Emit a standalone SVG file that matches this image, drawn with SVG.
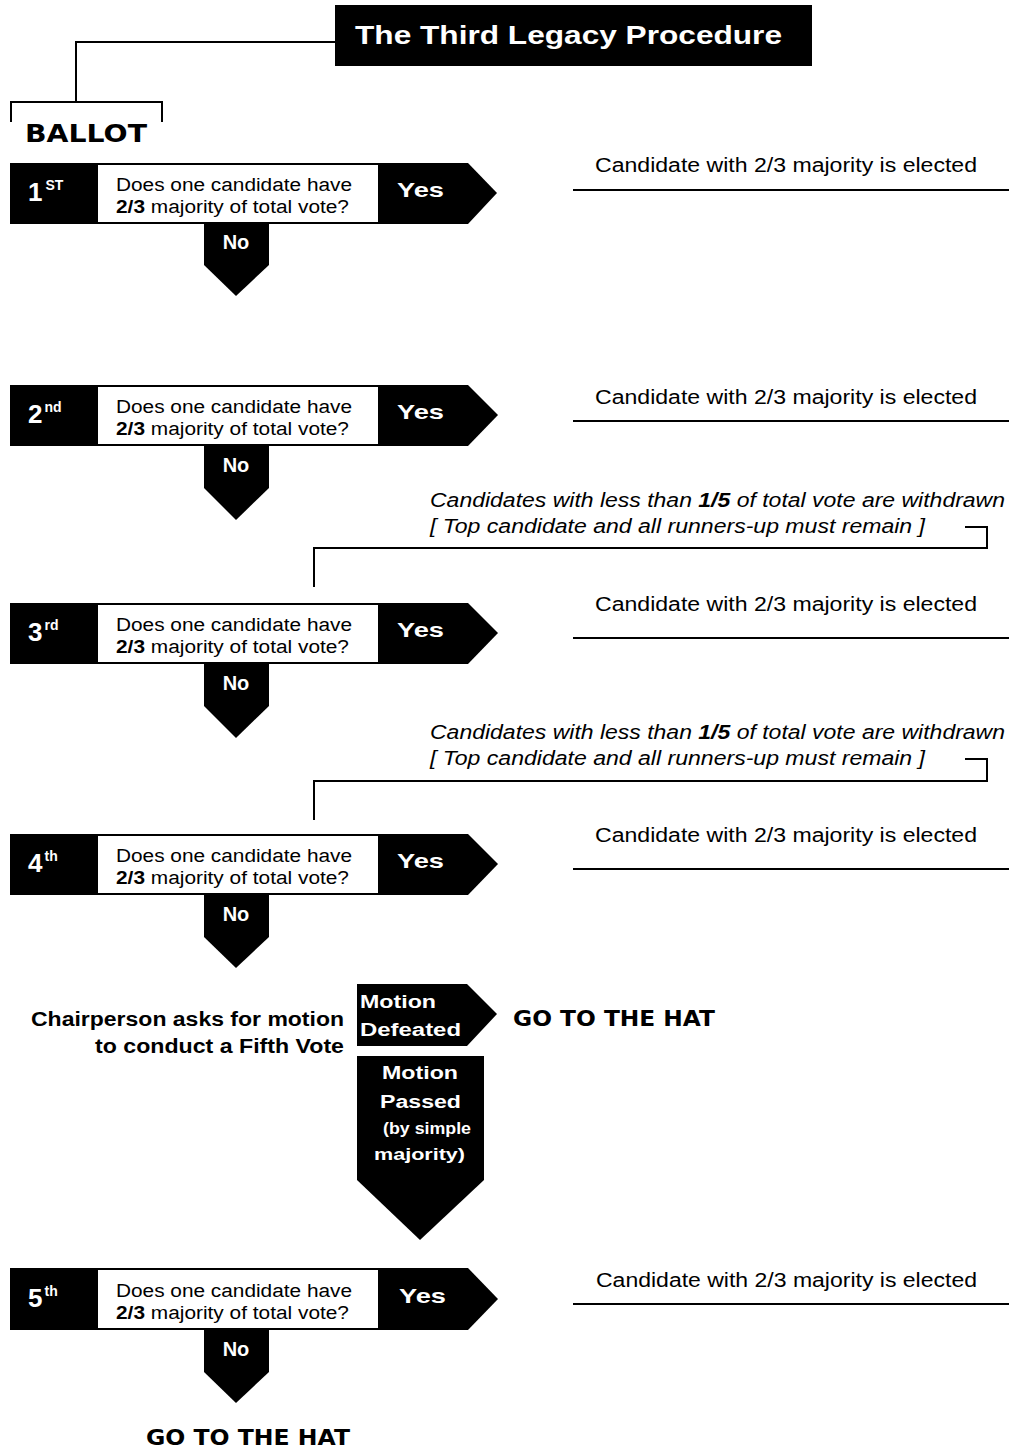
<svg xmlns="http://www.w3.org/2000/svg" width="1009" height="1451" viewBox="0 0 1009 1451">
<style>
.blk{fill:#000}
.wbox{fill:#fff}
.ln{fill:none;stroke:#000;stroke-width:2}
.wt{fill:#fff;font-family:"Liberation Sans",Arial,sans-serif;font-weight:bold}
.q{fill:#000;font-family:"Liberation Sans",Arial,sans-serif;font-size:18px}
.c{fill:#000;font-family:"Liberation Sans",Arial,sans-serif;font-size:20px}
.it{fill:#000;font-family:"Liberation Sans",Arial,sans-serif;font-size:20px;font-style:italic}
.bd{fill:#000;font-family:"Liberation Sans",Arial,sans-serif;font-weight:bold}
.hv{fill:#000;font-family:"DejaVu Sans","Liberation Sans",sans-serif;font-weight:bold}
.ord{fill:#fff;font-family:"Liberation Sans",Arial,sans-serif;font-weight:bold;font-size:26px}
.sup{font-size:14px}
</style>
<rect width="1009" height="1451" fill="#fff"/>

<g id="connectors">
<path class="ln" d="M335,42 H76 V102"/>
<path class="ln" d="M11,122 V102 H162 V122"/>
<path class="ln" d="M965,527 H987 V548 H314 V587"/>
<path class="ln" d="M965,759 H987 V781 H314 V820"/>
<path class="ln" d="M573,190 H1009"/>
<path class="ln" d="M573,421 H1009"/>
<path class="ln" d="M573,638 H1009"/>
<path class="ln" d="M573,869 H1009"/>
<path class="ln" d="M573,1304 H1009"/>
</g>

<g id="title">
<rect class="blk" x="335" y="5" width="477" height="61"/>
<text class="wt" x="355" y="44" font-size="26" textLength="427" lengthAdjust="spacingAndGlyphs">The Third Legacy Procedure</text>
</g>

<g id="ballot-label">
<text class="hv" x="25" y="142" font-size="24" textLength="122" lengthAdjust="spacingAndGlyphs">BALLOT</text>
</g>

<g id="ballot1">
<path class="blk" d="M10,163 H468 L497,193 L468,224 H10 Z"/>
<rect class="wbox" x="98" y="165" width="280" height="57"/>
<text class="ord" x="28" y="201">1<tspan class="sup" dx="3" dy="-11">ST</tspan></text>
<text class="q" x="116" y="191" textLength="236" lengthAdjust="spacingAndGlyphs">Does one candidate have</text>
<text class="q" x="116" y="213" textLength="233" lengthAdjust="spacingAndGlyphs"><tspan font-weight="bold">2/3</tspan> majority of total vote?</text>
<text class="wt" x="397" y="197" font-size="21" textLength="47" lengthAdjust="spacingAndGlyphs">Yes</text>
<path class="blk" d="M204,224 V265 L236,296 L269,265 V224 Z"/>
<text class="wt" x="236" y="249" font-size="20" text-anchor="middle">No</text>
</g>
<g id="elected1"><text class="c" x="595" y="172" textLength="382" lengthAdjust="spacingAndGlyphs">Candidate with 2/3 majority is elected</text></g>

<g id="ballot2">
<path class="blk" d="M10,385 H468 L498,415 L468,446 H10 Z"/>
<rect class="wbox" x="98" y="387" width="280" height="57"/>
<text class="ord" x="28" y="423">2<tspan class="sup" dx="2" dy="-11">nd</tspan></text>
<text class="q" x="116" y="413" textLength="236" lengthAdjust="spacingAndGlyphs">Does one candidate have</text>
<text class="q" x="116" y="435" textLength="233" lengthAdjust="spacingAndGlyphs"><tspan font-weight="bold">2/3</tspan> majority of total vote?</text>
<text class="wt" x="397" y="419" font-size="21" textLength="47" lengthAdjust="spacingAndGlyphs">Yes</text>
<path class="blk" d="M204,446 V488 L236,520 L269,488 V446 Z"/>
<text class="wt" x="236" y="472" font-size="20" text-anchor="middle">No</text>
</g>
<g id="elected2"><text class="c" x="595" y="404" textLength="382" lengthAdjust="spacingAndGlyphs">Candidate with 2/3 majority is elected</text></g>

<g id="withdraw1">
<text class="it" x="430" y="507" textLength="575" lengthAdjust="spacingAndGlyphs">Candidates with less than <tspan font-weight="bold">1/5</tspan> of total vote are withdrawn</text>
<text class="it" x="430" y="533" textLength="495" lengthAdjust="spacingAndGlyphs">[ Top candidate and all runners-up must remain ]</text>
</g>

<g id="ballot3">
<path class="blk" d="M10,603 H468 L498,633 L468,664 H10 Z"/>
<rect class="wbox" x="98" y="605" width="280" height="57"/>
<text class="ord" x="28" y="641">3<tspan class="sup" dx="2" dy="-11">rd</tspan></text>
<text class="q" x="116" y="631" textLength="236" lengthAdjust="spacingAndGlyphs">Does one candidate have</text>
<text class="q" x="116" y="653" textLength="233" lengthAdjust="spacingAndGlyphs"><tspan font-weight="bold">2/3</tspan> majority of total vote?</text>
<text class="wt" x="397" y="637" font-size="21" textLength="47" lengthAdjust="spacingAndGlyphs">Yes</text>
<path class="blk" d="M204,664 V706 L236,738 L269,706 V664 Z"/>
<text class="wt" x="236" y="690" font-size="20" text-anchor="middle">No</text>
</g>
<g id="elected3"><text class="c" x="595" y="611" textLength="382" lengthAdjust="spacingAndGlyphs">Candidate with 2/3 majority is elected</text></g>

<g id="withdraw2">
<text class="it" x="430" y="739" textLength="575" lengthAdjust="spacingAndGlyphs">Candidates with less than <tspan font-weight="bold">1/5</tspan> of total vote are withdrawn</text>
<text class="it" x="430" y="765" textLength="495" lengthAdjust="spacingAndGlyphs">[ Top candidate and all runners-up must remain ]</text>
</g>

<g id="ballot4">
<path class="blk" d="M10,834 H468 L498,864 L468,895 H10 Z"/>
<rect class="wbox" x="98" y="836" width="280" height="57"/>
<text class="ord" x="28" y="872">4<tspan class="sup" dx="2" dy="-11">th</tspan></text>
<text class="q" x="116" y="862" textLength="236" lengthAdjust="spacingAndGlyphs">Does one candidate have</text>
<text class="q" x="116" y="884" textLength="233" lengthAdjust="spacingAndGlyphs"><tspan font-weight="bold">2/3</tspan> majority of total vote?</text>
<text class="wt" x="397" y="868" font-size="21" textLength="47" lengthAdjust="spacingAndGlyphs">Yes</text>
<path class="blk" d="M204,895 V937 L236,968 L269,937 V895 Z"/>
<text class="wt" x="236" y="921" font-size="20" text-anchor="middle">No</text>
</g>
<g id="elected4"><text class="c" x="595" y="842" textLength="382" lengthAdjust="spacingAndGlyphs">Candidate with 2/3 majority is elected</text></g>

<g id="chair">
<text class="bd" x="344" y="1026" font-size="20" text-anchor="end" textLength="313" lengthAdjust="spacingAndGlyphs">Chairperson asks for motion</text>
<text class="bd" x="344" y="1053" font-size="20" text-anchor="end" textLength="249" lengthAdjust="spacingAndGlyphs">to conduct a Fifth Vote</text>
</g>

<g id="defeated">
<path class="blk" d="M357,984 H467 L497,1014 L467,1046 H357 Z"/>
<text class="wt" x="360" y="1008" font-size="18" textLength="76" lengthAdjust="spacingAndGlyphs">Motion</text>
<text class="wt" x="360" y="1036" font-size="18" textLength="101" lengthAdjust="spacingAndGlyphs">Defeated</text>
</g>
<g id="hat1"><text class="hv" x="513" y="1026" font-size="21" textLength="202" lengthAdjust="spacingAndGlyphs">GO TO THE HAT</text></g>

<g id="passed">
<path class="blk" d="M357,1056 H484 V1180 L420,1240 L357,1180 Z"/>
<text class="wt" x="382" y="1079" font-size="18" textLength="76" lengthAdjust="spacingAndGlyphs">Motion</text>
<text class="wt" x="380" y="1108" font-size="18" textLength="81" lengthAdjust="spacingAndGlyphs">Passed</text>
<text class="wt" x="383" y="1134" font-size="16" textLength="88" lengthAdjust="spacingAndGlyphs">(by simple</text>
<text class="wt" x="374" y="1160" font-size="16" textLength="91" lengthAdjust="spacingAndGlyphs">majority)</text>
</g>

<g id="ballot5">
<path class="blk" d="M10,1268 H468 L498,1299 L468,1330 H10 Z"/>
<rect class="wbox" x="98" y="1270" width="280" height="58"/>
<text class="ord" x="28" y="1307">5<tspan class="sup" dx="2" dy="-11">th</tspan></text>
<text class="q" x="116" y="1297" textLength="236" lengthAdjust="spacingAndGlyphs">Does one candidate have</text>
<text class="q" x="116" y="1319" textLength="233" lengthAdjust="spacingAndGlyphs"><tspan font-weight="bold">2/3</tspan> majority of total vote?</text>
<text class="wt" x="399" y="1303" font-size="21" textLength="47" lengthAdjust="spacingAndGlyphs">Yes</text>
<path class="blk" d="M204,1330 V1372 L236,1403 L269,1372 V1330 Z"/>
<text class="wt" x="236" y="1356" font-size="20" text-anchor="middle">No</text>
</g>
<g id="elected5"><text class="c" x="596" y="1287" textLength="381" lengthAdjust="spacingAndGlyphs">Candidate with 2/3 majority is elected</text></g>

<g id="hat2"><text class="hv" x="146" y="1445" font-size="21" textLength="204" lengthAdjust="spacingAndGlyphs">GO TO THE HAT</text></g>
</svg>
